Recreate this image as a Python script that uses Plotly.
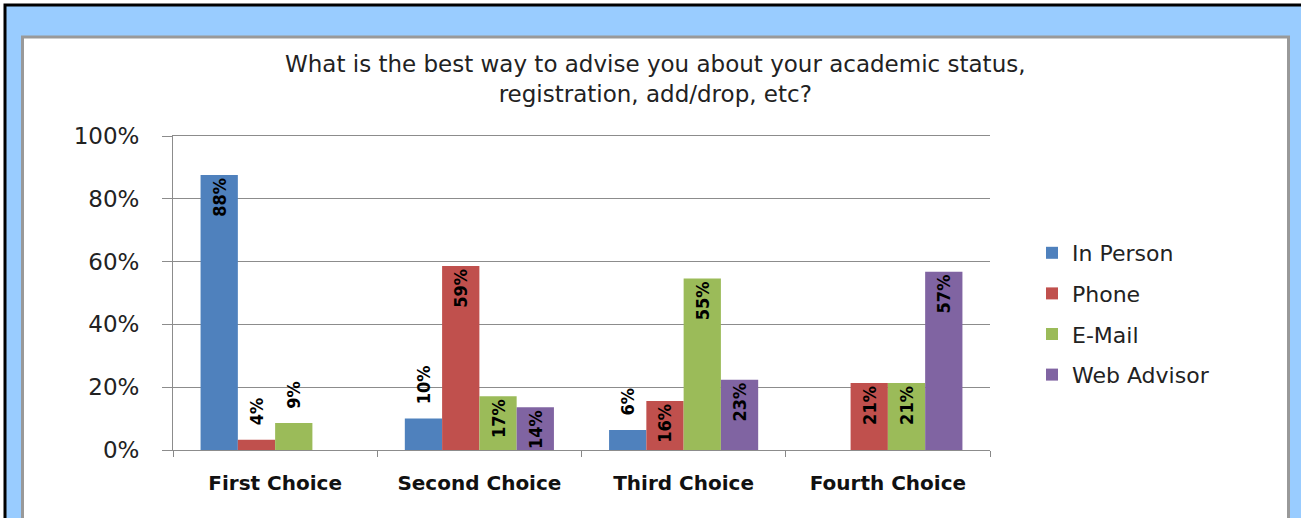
import plotly.graph_objects as go

categories = ["First Choice", "Second Choice", "Third Choice", "Fourth Choice"]
series_names = ["In Person", "Phone", "E-Mail", "Web Advisor"]
in_person = [87.6, 10.0, 6.4, 0]
phone = [3.3, 58.6, 15.6, 21.3]
email = [8.6, 17.1, 54.6, 21.3]
web_advisor = [0, 13.6, 22.4, 56.8]
in_person_labels = ["88%", "10%", "6%", ""]
phone_labels = ["4%", "59%", "16%", "21%"]
email_labels = ["9%", "17%", "55%", "21%"]
web_advisor_labels = ["", "14%", "23%", "57%"]
y_ticks = [0, 20, 40, 60, 80, 100]
y_tick_labels = ["0%", "20%", "40%", "60%", "80%", "100%"]
colors = ["#4F81BD", "#C0504D", "#9BBB59", "#8064A2"]

values = [in_person, phone, email, web_advisor]
labels = [in_person_labels, phone_labels, email_labels, web_advisor_labels]

W, H = 1301, 518
L, R, T, B = 173, 311, 136, 68
pw, ph = W - L - R, H - T - B


def px_x(x):
    return (x - L) / pw


def px_y(y):
    return (H - B - y) / ph


fig = go.Figure()
for name, vals, labs, col in zip(series_names, values, labels, colors):
    pos = []
    txt = []
    for v, lab in zip(vals, labs):
        if lab == "":
            pos.append("none")
            txt.append("")
        elif v < 12:
            pos.append("outside")
            txt.append("\u00a0\u00a0" + lab)
        else:
            pos.append("inside")
            txt.append(lab)
    fig.add_trace(go.Bar(
        x=categories, y=vals, name=name, legendgroup=name,
        marker=dict(color=col, line=dict(width=0)),
        text=txt, textposition=pos, textangle=-90,
        insidetextanchor="end", constraintext="none", cliponaxis=False,
        textfont=dict(family="DejaVu Sans Condensed, DejaVu Sans, sans-serif",
                      size=18, color="#000000", weight="bold"),
        hoverinfo="skip",
    ))

shapes = [
    # light blue background with black frame
    dict(type="rect", xref="paper", yref="paper", layer="below",
         x0=px_x(5), x1=px_x(1340), y0=px_y(5), y1=px_y(600),
         fillcolor="#99CCFF", line=dict(color="#000000", width=3)),
    # white inner panel
    dict(type="rect", xref="paper", yref="paper", layer="below",
         x0=px_x(22.5), x1=px_x(1288.5), y0=px_y(37), y1=px_y(560),
         fillcolor="#FFFFFF", line=dict(color="#999999", width=3)),
]

fig.add_annotation(
    xref="paper", yref="paper", x=px_x(655), y=px_y(79),
    text="What is the best way to advise you about your academic status,<br>registration, add/drop, etc?",
    showarrow=False, xanchor="center", yanchor="middle", align="center",
    font=dict(family="DejaVu Sans, sans-serif", size=23, color="#222222"),
)

fig.update_layout(
    width=W, height=H,
    margin=dict(l=L, r=R, t=T, b=B, autoexpand=False),
    paper_bgcolor="#FFFFFF", plot_bgcolor="rgba(0,0,0,0)",
    barmode="group", bargap=0.27, bargroupgap=0,
    shapes=shapes,
    showlegend=True,
    legend=dict(
        x=px_x(1032), y=px_y(314), xanchor="left", yanchor="middle",
        font=dict(family="DejaVu Sans, sans-serif", size=22, color="#222222"),
        tracegroupgap=9, bgcolor="rgba(0,0,0,0)", itemwidth=30,
        traceorder="grouped",
    ),
    xaxis=dict(
        showgrid=False, showline=True, mirror=True, linecolor="#8C8C8C", linewidth=1,
        zeroline=False,
        ticks="outside", tickson="boundaries", ticklen=6, tickcolor="#888888",
        tickfont=dict(family="DejaVu Sans, sans-serif",
                      size=20, color="#111111", weight="bold"),
        ticklabelstandoff=15,
    ),
    yaxis=dict(
        range=[0, 100], tickvals=y_ticks, ticktext=y_tick_labels,
        showgrid=True, gridcolor="#8C8C8C", gridwidth=1,
        showline=True, linecolor="#8C8C8C", linewidth=1,
        zeroline=False,
        ticks="outside", ticklen=10, tickcolor="#8C8C8C",
        tickfont=dict(family="DejaVu Sans, sans-serif", size=23, color="#222222"),
        ticklabelstandoff=18,
    ),
    font=dict(family="DejaVu Sans, sans-serif"),
)

fig.write_html(
    "out.html",
    config={"displayModeBar": False},
    post_script="document.body.style.margin='0';document.body.style.padding='0';document.body.style.overflow='hidden';",
)
